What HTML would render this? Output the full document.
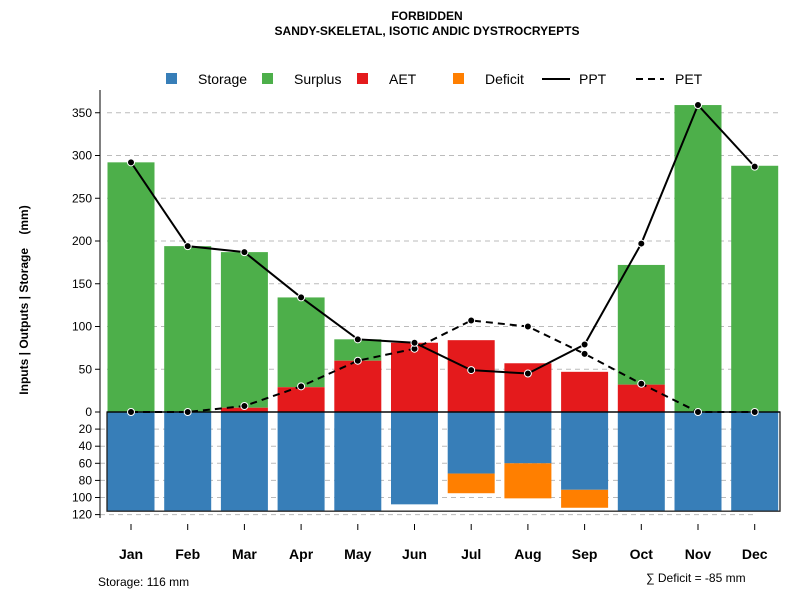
<!DOCTYPE html>
<html><head><meta charset="utf-8"><style>
body{margin:0;background:#fff;font-family:"Liberation Sans",sans-serif;}
svg text{font-family:"Liberation Sans",sans-serif;white-space:pre;}
</style></head><body>
<svg id="c" width="800" height="600"></svg>
<script>
const months=["Jan","Feb","Mar","Apr","May","Jun","Jul","Aug","Sep","Oct","Nov","Dec"];
const ppt=[292,194,187,134,85,81,49,45,79,197,359,287];
const pet=[0,0,7,30,60,74,107,100,68,33,0,0];
const aet=[0,0,5,29,60,81,84,57,47,32,0,0];
const surplusTop=[292,194,187,134,85,0,0,0,0,172,359,288];
const storage=[116,116,116,116,116,108,72,60,91,116,116,116];
const deficit=[0,0,0,0,0,0,23,41,21,0,0,0];
const upTicks=[0,50,100,150,200,250,300,350];
const lowTicks=[20,40,60,80,100,120];
const NS="http://www.w3.org/2000/svg";
const svg=document.getElementById('c');
function mk(t,a,txt){const e=document.createElementNS(NS,t);for(const k in a)e.setAttribute(k,a[k]);if(txt!==undefined)e.textContent=txt;svg.appendChild(e);return e;}
const y0=412,k=0.855;
const yU=v=>y0-v*k, yL=v=>y0+v*k;
const xC=i=>131+i*56.7, bw=47;
let e;
upTicks.forEach(t=>{if(t>0){e=mk('line',{x1:107,x2:780,y1:yU(t),y2:yU(t),stroke:'#bbb','stroke-dasharray':'5,4'});}
 e=mk('text',{x:92,y:yU(t)+4,'text-anchor':'end','font-size':12},t);
 mk('line',{x1:95,x2:100,y1:yU(t),y2:yU(t),stroke:'#000'});});
lowTicks.forEach(t=>{e=mk('line',{x1:100,x2:755,y1:yL(t),y2:yL(t),stroke:'#bbb','stroke-dasharray':'5,4'});
 e=mk('text',{x:92,y:yL(t)+4,'text-anchor':'end','font-size':12},t);
 mk('line',{x1:95,x2:100,y1:yL(t),y2:yL(t),stroke:'#000'});});
mk('line',{x1:100,x2:100,y1:90,y2:518,stroke:'#000'});
months.forEach((m,i)=>{const x=xC(i)-bw/2;
 if(surplusTop[i]>aet[i]){e=mk('rect',{x,y:yU(surplusTop[i]),width:bw,height:(surplusTop[i]-aet[i])*k,fill:'#4daf4a'});}
 if(aet[i]>0){e=mk('rect',{x,y:yU(aet[i]),width:bw,height:aet[i]*k,fill:'#e41a1c'});}
 e=mk('rect',{x,y:y0,width:bw,height:storage[i]*k,fill:'#377eb8'});
 if(deficit[i]>0){e=mk('rect',{x,y:yL(storage[i]),width:bw,height:deficit[i]*k,fill:'#ff7f00'});}
 mk('line',{x1:xC(i),x2:xC(i),y1:524,y2:530,stroke:'#000'});
 e=mk('text',{x:xC(i),y:559,'text-anchor':'middle','font-size':14,'font-weight':'bold'},m);
});
e=mk('rect',{x:107,y:y0,width:673,height:116*k,fill:'none',stroke:'#222','stroke-width':1.3});
mk('line',{x1:107,x2:780,y1:y0,y2:y0,stroke:'#000','stroke-width':1.3});
function line(arr,dash,name){const pts=arr.map((v,i)=>xC(i)+','+yU(v)).join(' ');
 e=mk('polyline',{points:pts,fill:'none',stroke:'#000','stroke-width':2,'stroke-dasharray':dash});
 arr.forEach((v,i)=>{e=mk('circle',{cx:xC(i),cy:yU(v),r:3.5,fill:'#000',stroke:'#fff','stroke-width':1});});}
line(pet,'7,5','pet-line');line(ppt,'none','ppt-line');
e=mk('text',{x:427,y:20,'text-anchor':'middle','font-size':12,'font-weight':'bold'},'FORBIDDEN');
e=mk('text',{x:427,y:35,'text-anchor':'middle','font-size':12,'font-weight':'bold'},'SANDY-SKELETAL, ISOTIC ANDIC DYSTROCRYEPTS');
e=mk('text',{x:0,y:0,transform:'translate(28,300) rotate(-90)','text-anchor':'middle','font-size':12,'font-weight':'bold'},'Inputs | Outputs | Storage    (mm)');
e=mk('text',{x:98,y:586,'font-size':12},'Storage: 116 mm');
e=mk('text',{x:646,y:582,'font-size':12},'∑ Deficit = -85 mm');
const legItems=[['Storage','#377eb8',166,198],['Surplus','#4daf4a',262,294],['AET','#e41a1c',357,389],['Deficit','#ff7f00',453,485]];
legItems.forEach(l=>{e=mk('rect',{x:l[2],y:73,width:11,height:11,fill:l[1]});
 e=mk('text',{x:l[3],y:84,'font-size':14},l[0]);});
mk('line',{x1:542,x2:570,y1:79,y2:79,stroke:'#000','stroke-width':2});
e=mk('text',{x:579,y:84,'font-size':14},'PPT');
mk('line',{x1:636,x2:664,y1:79,y2:79,stroke:'#000','stroke-width':2,'stroke-dasharray':'7,5'});
e=mk('text',{x:675,y:84,'font-size':14},'PET');
</script>
</body></html>
